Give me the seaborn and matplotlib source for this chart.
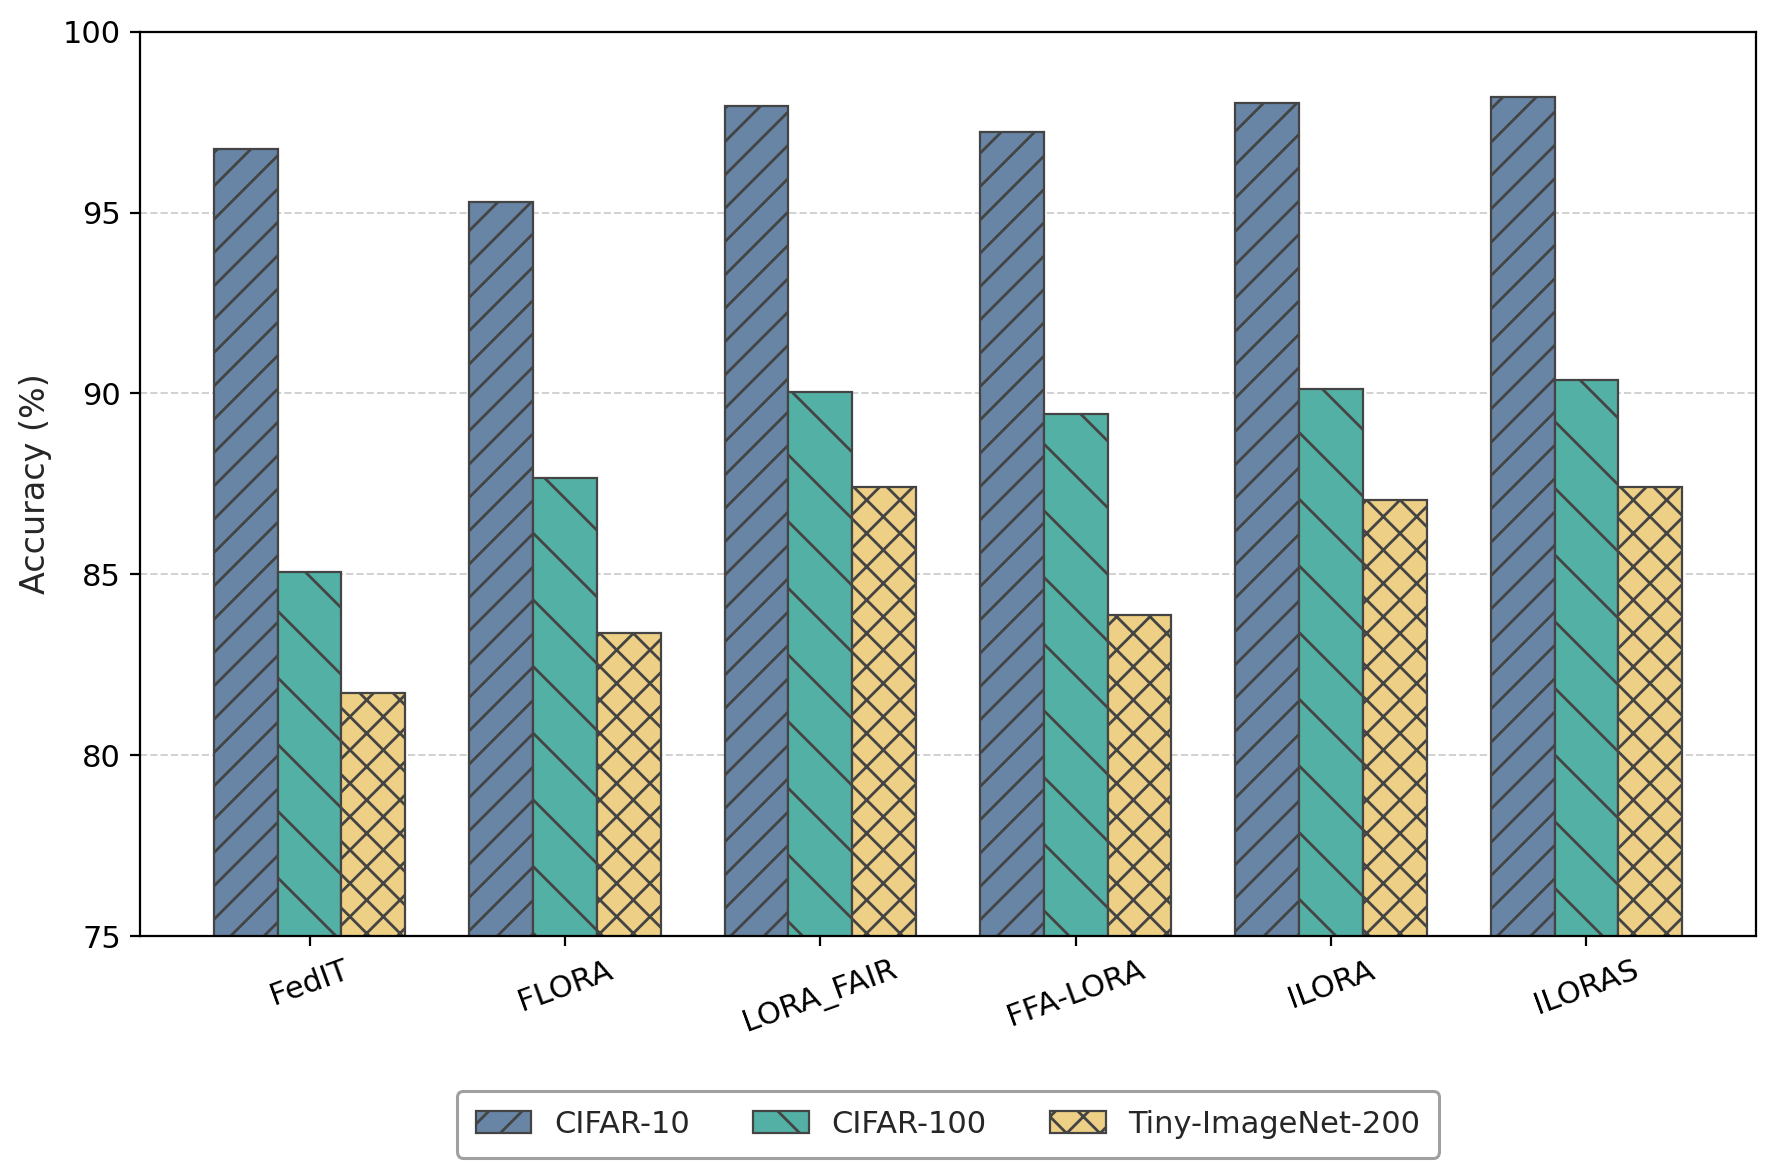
import matplotlib
matplotlib.use('Agg')
import matplotlib.pyplot as plt
import seaborn as sns
import pandas as pd

methods = ['FedIT', 'FLORA', 'LORA_FAIR', 'FFA-LORA', 'ILORA', 'ILORAS']
datasets = ['CIFAR-10', 'CIFAR-100', 'Tiny-ImageNet-200']
cifar10 = [96.75, 95.28, 97.94, 97.22, 98.03, 98.19]
cifar100 = [85.06, 87.66, 90.03, 89.44, 90.13, 90.38]
tiny = [81.72, 83.38, 87.41, 83.88, 87.06, 87.41]

colors = ['#6885a5', '#52b0a5', '#edcf85']
hatches = ['//', '\\', 'xx']

rows = []
for name, vals in zip(datasets, [cifar10, cifar100, tiny]):
    for m, v in zip(methods, vals):
        rows.append((m, name, v))
df = pd.DataFrame(rows, columns=['Method', 'Dataset', 'Accuracy'])

sns.set_style('ticks')
plt.rcParams['font.family'] = ['DejaVu Sans']
plt.rcParams['hatch.color'] = '#3a3a3a'

fig, ax = plt.subplots(figsize=(8.885, 5.88), dpi=200)
sns.barplot(data=df, x='Method', y='Accuracy', hue='Dataset', order=methods,
            hue_order=datasets, palette=colors, saturation=1, width=0.75,
            edgecolor='#444444', linewidth=0.8, ax=ax, legend=False)

for cont, h in zip(ax.containers, hatches):
    for bar in cont:
        bar.set_hatch(h)

ax.set_ylim(75, 100)
ax.set_xlim(-0.6625, 5.6625)
ax.set_xlabel('')
ax.set_ylabel('Accuracy (%)', fontsize=12)
ax.tick_params(axis='x', labelsize=11, rotation=20, colors='black')
ax.tick_params(axis='y', labelsize=11, colors='black')
for sp in ax.spines.values():
    sp.set_visible(True)
    sp.set_color('black')
ax.yaxis.grid(True, linestyle='--', color='#cccccc', alpha=0.9, linewidth=0.7)
ax.set_axisbelow(True)

leg = ax.legend(handles=[c[0] for c in ax.containers], labels=datasets, loc='upper center',
                bbox_to_anchor=(0.5, -0.154), ncol=3, fontsize=11, frameon=True,
                framealpha=1, edgecolor='#a0a0a0', borderpad=0.62, handlelength=1.82,
                handleheight=0.75, handletextpad=0.75, columnspacing=2.07)
leg.get_frame().set_linewidth(1.1)

fig.subplots_adjust(left=0.079, right=0.988, top=0.973, bottom=0.204)
plt.savefig('out.png', dpi=200)
